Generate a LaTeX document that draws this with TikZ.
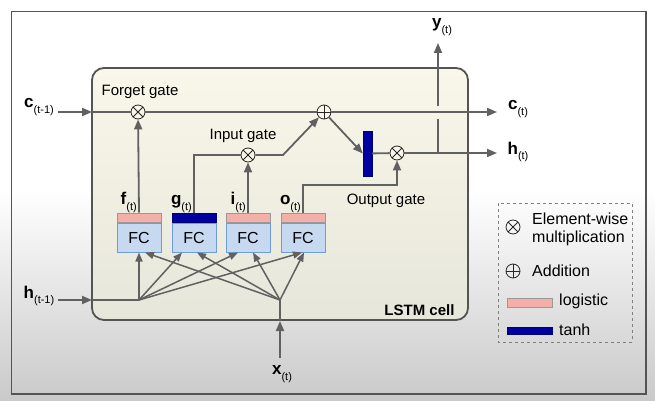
\documentclass[tikz,border=0pt]{standalone}
\usepackage{fontspec}
\setmainfont{Liberation Sans}
\usetikzlibrary{arrows.meta}

\definecolor{linegray}{rgb}{0.380000, 0.380000, 0.380000}
\definecolor{framegray}{rgb}{0.330000, 0.330000, 0.330000}
\definecolor{celltop}{rgb}{0.973000, 0.969000, 0.918000}
\definecolor{cellbot}{rgb}{0.905000, 0.902000, 0.855000}
\definecolor{fcblue}{rgb}{0.780000, 0.851000, 0.945000}
\definecolor{fcedge}{rgb}{0.430000, 0.610000, 0.850000}
\definecolor{logpink}{rgb}{0.957000, 0.690000, 0.660000}
\definecolor{tanhblue}{rgb}{0.000000, 0.000000, 0.630000}

\newcommand{\lvar}[2]{\textbf{#1}\raisebox{-0.6ex}{\fontsize{11}{11}\selectfont(#2)}}

\tikzset{
  wire/.style={draw=linegray, line width=1.8pt},
  arr/.style={wire, -{Triangle[length=10pt,width=8pt]}},
  fan/.style={draw=linegray, line width=1.5pt, -{Triangle[length=9pt,width=7pt]}},
  mul/.style={circle, draw=black!85, fill=celltop, line width=0.8pt, minimum size=14pt, inner sep=0pt,
    path picture={\draw[line width=0.8pt] (path picture bounding box.north west) -- (path picture bounding box.south east)
      (path picture bounding box.north east) -- (path picture bounding box.south west);}},
  add/.style={circle, draw=black!85, fill=celltop, line width=0.8pt, minimum size=14pt, inner sep=0pt,
    path picture={\draw[line width=0.8pt] (path picture bounding box.north) -- (path picture bounding box.south)
      (path picture bounding box.west) -- (path picture bounding box.east);}},
  fcbox/.style={draw=fcedge, fill=fcblue, line width=1pt, minimum width=44pt, minimum height=29pt, inner sep=0pt,
    font=\fontsize{16}{16}\selectfont},
  actlog/.style={draw=gray!80, fill=logpink, line width=0.8pt, minimum width=44pt, minimum height=9pt, inner sep=0pt},
  acttanh/.style={draw=tanhblue!70!black, fill=tanhblue, line width=0.8pt, minimum width=44pt, minimum height=9pt, inner sep=0pt},
  lbl/.style={font=\fontsize{15}{15}\selectfont, inner sep=1pt},
  vlbl/.style={font=\fontsize{17}{17}\selectfont, inner sep=1pt},
}

\begin{document}
\begin{tikzpicture}[x=1pt, y=-1pt]
\useasboundingbox (0,0) rectangle (655,401);
% backdrop and frame
\fill[white] (0,0) rectangle (655,190);
\shade[top color=white, bottom color=black!21] (0,190) rectangle (655,401);
\draw[framegray, line width=1.2pt] (11.5,11.5) rectangle (646,394);
% the cell
\shadedraw[top color=celltop, bottom color=cellbot, draw=framegray, line width=1.8pt, rounded corners=12pt]
  (92,68) rectangle (468,320);
\node[font=\bfseries\fontsize{15}{15}\selectfont, anchor=east] (cellname) at (458,310) {LSTM cell};

% gates
\node[mul] (fmul) at (138,112) {};
\node[add] (plus) at (324,112) {};
\node[mul] (imul) at (248,155) {};
\node[mul] (omul) at (397,153) {};
\node[draw=tanhblue!70!black, fill=tanhblue, minimum width=9pt, minimum height=45pt, inner sep=0pt] (bar) at (367.5,153.5) {};
\node[lbl] (fgate) at (140,92) {Forget gate};
\node[lbl] (igate) at (243,136) {Input gate};
\node[lbl] (ogate) at (386,201) {Output gate};

% fully connected layers
\node[fcbox] (fcF) at (139,237.5) {FC};
\node[fcbox] (fcG) at (194,237.5) {FC};
\node[fcbox] (fcI) at (248,237.5) {FC};
\node[fcbox] (fcO) at (303,237.5) {FC};
\node[actlog, anchor=south] (actF) at (fcF.north) {};
\node[acttanh, anchor=south] (actG) at (fcG.north) {};
\node[actlog, anchor=south] (actI) at (fcI.north) {};
\node[actlog, anchor=south] (actO) at (fcO.north) {};
\node[vlbl, anchor=south east] (lblF) at ([xshift=-1pt,yshift=-1pt]actF.north) {\lvar{f}{t}};
\node[vlbl, anchor=south east] (lblG) at ([xshift=-1pt,yshift=-1pt]actG.north) {\lvar{g}{t}};
\node[vlbl, anchor=south east] (lblI) at ([xshift=-1pt,yshift=-1pt]actI.north) {\lvar{i}{t}};
\node[vlbl, anchor=south east] (lblO) at ([xshift=-1pt,yshift=-1pt]actO.north) {\lvar{o}{t}};

% inputs and outputs
\node[vlbl] (lblCin) at (39,107) {\lvar{c}{t-1}};
\node[vlbl] (lblHin) at (39,296) {\lvar{h}{t-1}};
\node[vlbl] (lblX) at (282,374) {\lvar{x}{t}};
\node[vlbl] (lblY) at (442,27) {\lvar{y}{t}};
\node[vlbl] (lblCout) at (518,109) {\lvar{c}{t}};
\node[vlbl] (lblHout) at (518,152) {\lvar{h}{t}};
\coordinate (cin) at (58,112);
\coordinate (cinB) at (92,112);
\coordinate (cout) at (497,112);
\coordinate (hin) at (58,300);
\coordinate (hinB) at (92,300);
\coordinate (hj) at (139,300);
\coordinate (xin) at (280,358);
\coordinate (xinB) at (280,321);
\coordinate (xj) at (280,300);
\coordinate (hout) at (497,153);
\coordinate (yj) at (438,153);
\coordinate (ygapLo) at (438,119);
\coordinate (ygapHi) at (438,106);
\coordinate (yout) at (438,43);
\coordinate (ibend) at (283,155);
\coordinate (obend) at (303,185);

% cell state line
\draw[arr] (cin) -- (cinB);
\draw[wire] (cinB) -- (fmul);
\draw[wire] (fmul) -- (plus);
\draw[arr] (plus) -- (cout);
% gate wires
\draw[arr] (actF.north) -- (fmul);
\draw[wire] (actG.north) |- (imul);
\draw[arr] (actI.north) -- (imul);
\draw[arr] (imul) -- (ibend) -- (plus);
\draw[arr] (plus) -- (bar.west);
\draw[wire] (bar) -- (omul);
\draw[arr] (actO.north) -- (obend) -| (omul);
\draw[arr] (omul) -- (hout);
\draw[wire] (yj) -- (ygapLo);
\draw[arr] (ygapHi) -- (yout);
% inputs to the layers
\draw[arr] (hin) -- (hinB);
\draw[wire] (hinB) -- (hj);
\draw[arr] (xin) -- (xinB);
\draw[wire] (xinB) -- (xj);
\draw[fan] (hj) -- (fcF.south);
\draw[fan] (hj) -- ([xshift=-12pt]fcG.south);
\draw[fan] (hj) -- ([xshift=-10pt]fcI.south);
\draw[fan] (hj) -- ([xshift=-1pt]fcO.south);
\draw[fan] (xj) -- ([xshift=6pt]fcF.south);
\draw[fan] (xj) -- ([xshift=3pt]fcG.south);
\draw[fan] (xj) -- ([xshift=5pt]fcI.south);
\draw[fan] (xj) -- ([xshift=1pt]fcO.south);

% legend
\draw[draw=gray, line width=1pt, dashed] (498,203) rectangle (632,342);
\node[mul, fill=none] (lgMul) at (513,227) {};
\node[add, fill=none] (lgAdd) at (513,271) {};
\node[actlog, minimum width=45pt] (lgLog) at (529.5,302.5) {};
\node[acttanh, minimum width=45pt, minimum height=7pt] (lgTanh) at (529.5,330.5) {};
\node[lbl, anchor=west, align=left, font=\fontsize{16}{18}\selectfont] (lgMulTxt) at (531,229) {Element-wise\\multiplication};
\node[lbl, anchor=west, font=\fontsize{16}{16}\selectfont] (lgAddTxt) at (531,271) {Addition};
\node[lbl, anchor=west, font=\fontsize{16}{16}\selectfont] (lgLogTxt) at (558,301) {logistic};
\node[lbl, anchor=west, font=\fontsize{16}{16}\selectfont] (lgTanhTxt) at (558,330) {tanh};
\end{tikzpicture}
\end{document}
